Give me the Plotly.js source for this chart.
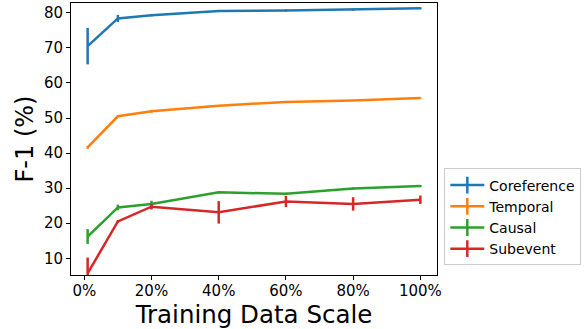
<!DOCTYPE html>
<html>
<head>
<meta charset="utf-8">
<script src="https://cdn.plot.ly/plotly-3.0.1.min.js"></script>
<style>html,body{margin:0;padding:0;background:#fff;}#chart{width:586px;height:329px;}</style>
</head>
<body>
<div id="chart"></div>
<script>
const scales = [1, 10, 20, 40, 60, 80, 100];
const seriesNames = ["Coreference", "Temporal", "Causal", "Subevent"];
const colors = ["#1f77b4", "#ff7f0e", "#2ca02c", "#d62728"];
const coreference = [70.5, 78.4, 79.3, 80.5, 80.65, 80.9, 81.3];
const coreferenceErr = [5.2, 1.0, 0.3, 0.3, 0.3, 0.3, 0.3];
const temporal = [41.6, 50.5, 51.9, 53.5, 54.6, 55.0, 55.7];
const temporalErr = [0.4, 0.3, 0.4, 0.2, 0.2, 0.2, 0.2];
const causal = [16.2, 24.5, 25.5, 28.8, 28.4, 29.9, 30.6];
const causalErr = [2.1, 0.8, 0.9, 0.3, 0.3, 0.3, 0.3];
const subevent = [5.7, 20.5, 24.7, 23.1, 26.2, 25.5, 26.7];
const subeventErr = [4.5, 0.4, 0.8, 3.2, 1.6, 1.9, 1.2];
const xTicks = [0, 20, 40, 60, 80, 100];
const yTicks = [10, 20, 30, 40, 50, 60, 70, 80];

const values = [coreference, temporal, causal, subevent];
const errs = [coreferenceErr, temporalErr, causalErr, subeventErr];

const traces = values.map((v, i) => ({
  x: scales, y: v, name: seriesNames[i], type: 'scatter', mode: 'lines',
  line: {color: colors[i], width: 2.5},
  error_y: {type: 'data', array: errs[i], visible: true, color: colors[i], thickness: 2.5, width: 0},
  showlegend: false
}));
// legend entries drawn as errorbar-style symbols (no data drawn)
seriesNames.forEach((n, i) => traces.push({
  x: [null], y: [null], name: n, type: 'scatter', mode: 'lines+markers',
  line: {color: colors[i], width: 2.5},
  marker: {symbol: 'line-ns-open', size: 12, color: colors[i], line: {color: colors[i], width: 2.5}},
  showlegend: true
}));

const font = {family: 'DejaVu Sans', color: '#000'};
const layout = {
  width: 586, height: 329,
  margin: {l: 71, r: 149, t: 3, b: 54},
  paper_bgcolor: '#fff', plot_bgcolor: '#fff',
  font: Object.assign({size: 15}, font),
  showlegend: true,
  xaxis: {
    range: [-3.95, 104.95], tickvals: xTicks, ticktext: xTicks.map(t => t + '%'),
    showgrid: false, zeroline: false, showline: true, linecolor: '#000', linewidth: 1, mirror: true,
    ticks: 'outside', ticklen: 4, tickcolor: '#000', tickfont: {size: 15}, ticklabelstandoff: -2,
    title: {text: 'Training Data Scale', font: {size: 24.5}, standoff: 8}
  },
  yaxis: {
    range: [5.23, 82.8], tickvals: yTicks,
    showgrid: false, zeroline: false, showline: true, linecolor: '#000', linewidth: 1, mirror: true,
    ticks: 'outside', ticklen: 4, tickcolor: '#000', tickfont: {size: 15},
    title: {text: 'F-1 (%)', font: {size: 24}, standoff: 3}
  },
  legend: {
    x: 1.02, xanchor: 'left', y: 0.035, yanchor: 'bottom',
    bordercolor: '#cccccc', borderwidth: 1, bgcolor: '#fff',
    font: {size: 14}, tracegroupgap: 0, itemwidth: 34
  }
};
Plotly.newPlot('chart', traces, layout, {staticPlot: true, displayModeBar: false});
</script>
</body>
</html>
